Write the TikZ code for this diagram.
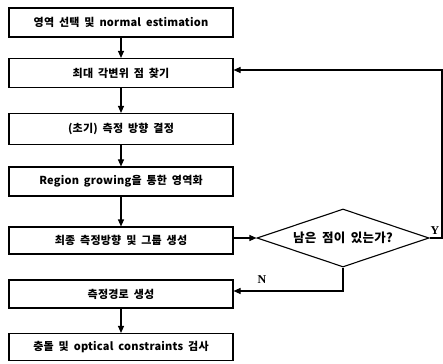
\documentclass[tikz,border=0pt]{standalone}
\usepackage{fontspec}
\setmainfont[WordSpace=1.8,LetterSpace=2]{Noto Sans CJK KR}
\newfontfamily\yn{Liberation Serif}
\usetikzlibrary{shapes.geometric,arrows.meta}
\begin{document}
\begin{tikzpicture}[x=1pt,y=-1pt,
  box/.style={draw,line width=1.1pt,minimum width=224pt,minimum height=29pt,inner sep=0pt,font=\bfseries\fontsize{11}{12}\selectfont},
  ln/.style={line width=1.1pt},
  arr/.style={ln,-{Triangle[length=7pt,width=6pt]}},
  lbl/.style={font=\yn\bfseries\fontsize{12}{13}\selectfont,inner sep=0pt}]
\useasboundingbox (0,0) rectangle (443,363);
\node[box] (b1) at (121,22.5) {영역 선택 및 normal estimation};
\node[box] (b2) at (121,73) {최대 각변위 점 찾기};
\node[box,minimum height=31pt] (b3) at (121,129) {(초기) 측정 방향 결정};
\node[box] (b4) at (121,181.5) {Region growing을 통한 영역화};
\node[box,minimum height=27pt] (b5) at (121,240.5) {최종 측정방향 및 그룹 생성};
\node[box,minimum height=28pt] (b6) at (121,294) {측정경로 생성};
\node[box,minimum height=27pt] (b7) at (121,347) {충돌 및 optical constraints 검사};
\node[diamond,draw,ln,shape aspect=3,minimum width=172pt,minimum height=58pt,inner sep=0pt,font=\bfseries\fontsize{12.5}{14}\selectfont] (d) at (343,238) {남은 점이 있는가?};
\coordinate (yc) at (442,238);
\coordinate (yt) at (442,70);
\coordinate (nc) at (343,291);
\draw[arr] (b1) -- (b2);
\draw[arr] (b2) -- (b3);
\draw[arr] (b3) -- (b4);
\draw[arr] (b4) -- (b5);
\draw[arr] (b6) -- (b7);
\draw[arr] (b5.east |- d.west) -- (d.west);
\draw[arr] (d.east) -- (yc) -- (yt) -- (b2.east |- yt);
\draw[arr] (d.south) -- (nc) -- (b6.east |- nc);
\node[lbl] (y) at (435,231) {Y};
\node[lbl] (n) at (262,280) {N};
\end{tikzpicture}
\end{document}
